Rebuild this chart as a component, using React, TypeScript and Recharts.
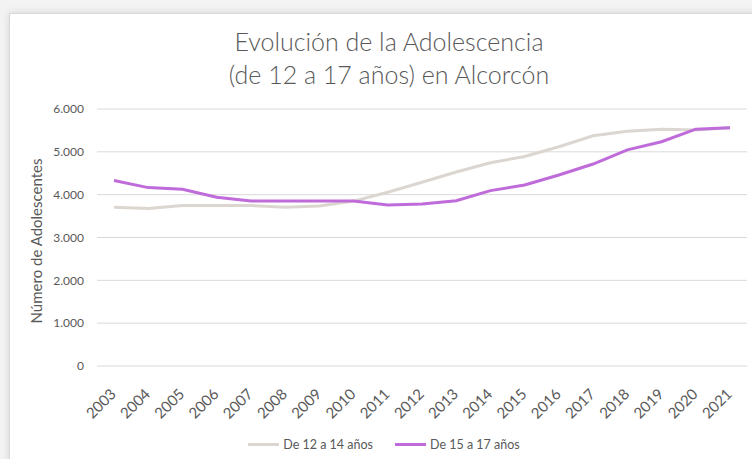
import { CartesianGrid, Legend, Line, LineChart, XAxis, YAxis } from 'recharts'

const anios = ['2003', '2004', '2005', '2006', '2007', '2008', '2009', '2010', '2011', '2012', '2013', '2014', '2015', '2016', '2017', '2018', '2019', '2020', '2021']
const de12a14 = [3705, 3675, 3745, 3745, 3745, 3705, 3735, 3850, 4055, 4290, 4530, 4745, 4890, 5120, 5375, 5480, 5525, 5510, 5565]
const de15a17 = [4330, 4165, 4125, 3940, 3855, 3852, 3850, 3850, 3760, 3780, 3860, 4095, 4225, 4460, 4715, 5045, 5235, 5530, 5565]
const ticksY = [0, 1000, 2000, 3000, 4000, 5000, 6000]

const datos = anios.map((anio, i) => ({ anio, de12a14: de12a14[i], de15a17: de15a17[i] }))

const FUENTE = 'Lato, "Open Sans", sans-serif'
const GRIS_TEXTO = '#595959'
const COLOR_12 = '#dcd6d1'
const COLOR_15 = '#bf6bda'

// separador de miles con punto
const miles = (v: number) => (v >= 1000 ? `${Math.floor(v / 1000)}.${String(v % 1000).padStart(3, '0')}` : String(v))

function TickAnio({ x, y, payload }: any) {
  const px = x + 3
  const py = y + 29
  return (
    <text x={px} y={py} transform={`rotate(-45 ${px} ${py})`} textAnchor="end" fill={GRIS_TEXTO} fontSize={15} fontFamily={FUENTE}>
      {payload.value}
    </text>
  )
}

function Leyenda() {
  const items = [
    { nombre: 'De 12 a 14 años', color: COLOR_12 },
    { nombre: 'De 15 a 17 años', color: COLOR_15 },
  ]
  return (
    <div style={{ display: 'flex', justifyContent: 'center', gap: 22, fontFamily: FUENTE, fontSize: 12.5, color: GRIS_TEXTO }}>
      {items.map((it) => (
        <div key={it.nombre} style={{ display: 'flex', alignItems: 'center', gap: 4 }}>
          <span style={{ display: 'inline-block', width: 31, height: 3, background: it.color }} />
          <span>{it.nombre}</span>
        </div>
      ))}
    </div>
  )
}

export default function App() {
  return (
    <div style={{ position: 'fixed', left: 0, top: 0, width: 752, height: 459, background: '#f3f3f3', overflow: 'hidden' }}>
      <div
        style={{
          position: 'absolute',
          left: 9,
          top: 13,
          width: 780,
          height: 480,
          background: '#fff',
          border: '1px solid #d9d9d9',
          boxShadow: '0 0 8px rgba(0,0,0,0.12)',
        }}
      />
      <div
        style={{
          position: 'absolute',
          left: 0,
          top: 25,
          width: 778,
          textAlign: 'center',
          fontFamily: FUENTE,
          fontWeight: 300,
          fontSize: 25,
          lineHeight: '33px',
          color: GRIS_TEXTO,
        }}
      >
        Evolución de la Adolescencia
        <br />
        (de 12 a 17 años) en Alcorcón
      </div>
      <div style={{ position: 'absolute', left: 0, top: 0 }}>
        <LineChart width={752} height={459} data={datos} margin={{ top: 109, right: 5, left: 0, bottom: 0 }}>
          <CartesianGrid vertical={false} stroke="#d9d9d9" strokeWidth={1} />
          <XAxis
            dataKey="anio"
            axisLine={false}
            tickLine={false}
            tickSize={0}
            tickMargin={0}
            interval={0}
            padding={{ left: 17, right: 17 }}
            tick={<TickAnio />}
            height={93}
          />
          <YAxis
            domain={[0, 6000]}
            ticks={ticksY}
            width={97}
            axisLine={false}
            tickLine={false}
            tickSize={0}
            tickMargin={13}
            tickFormatter={miles}
            tick={{ fill: GRIS_TEXTO, fontSize: 12, fontFamily: FUENTE }}
            label={{
              content: () => (
                <text x={38} y={241} transform="rotate(-90 38 241)" textAnchor="middle" dominantBaseline="middle" fill={GRIS_TEXTO} fontSize={15} fontFamily={FUENTE}>
                  Número de Adolescentes
                </text>
              ),
            }}
          />
          <Line type="linear" dataKey="de12a14" name="De 12 a 14 años" stroke={COLOR_12} strokeWidth={3} dot={false} isAnimationActive={false} />
          <Line type="linear" dataKey="de15a17" name="De 15 a 17 años" stroke={COLOR_15} strokeWidth={3} dot={false} isAnimationActive={false} />
          <Legend verticalAlign="middle" content={<Leyenda />} wrapperStyle={{ top: 437, left: 8, width: 752 }} />
        </LineChart>
      </div>
    </div>
  )
}
